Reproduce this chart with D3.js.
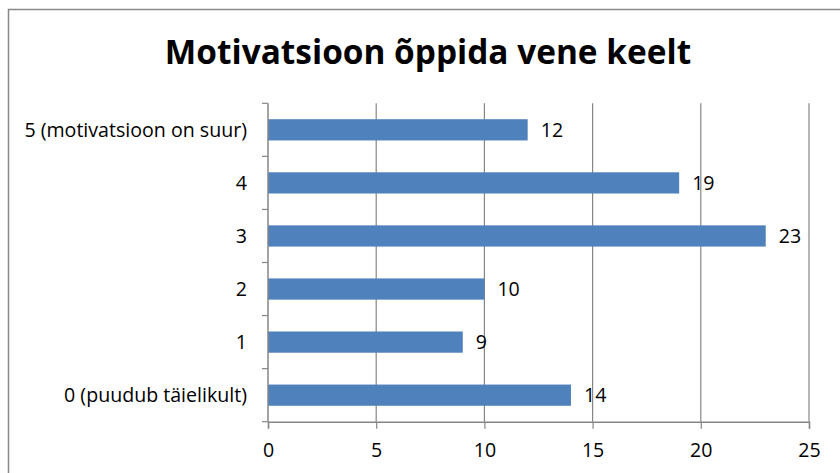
<!DOCTYPE html>
<html>
<head>
<meta charset="utf-8">
<script src="https://cdn.jsdelivr.net/npm/d3@7"></script>
<style>
  html, body { margin: 0; padding: 0; background: #fff; }
  svg { display: block; }
  text { font-variant-ligatures: none; font-feature-settings: "liga" 0; }
</style>
</head>
<body>
<svg id="chart" width="840" height="473"></svg>
<script>
const title = "Motivatsioon õppida vene keelt";
const categories = ["5 (motivatsioon on suur)", "4", "3", "2", "1", "0 (puudub täielikult)"];
const values = [12, 19, 23, 10, 9, 14];
const xTicks = [0, 5, 10, 15, 20, 25];

const W = 840, H = 473;
const plot = { left: 268, right: 809, top: 103.3, bottom: 421.7 };
const fontFamily = "'Open Sans', 'Noto Sans', 'Liberation Sans', sans-serif";
const gridColor = "#868686";
const barColor = "#4F81BD";
const labelSize = 19.6;

const svg = d3.select("#chart");
svg.append("rect").attr("width", W).attr("height", H).attr("fill", "#fff");

// outer frame
svg.append("rect")
  .attr("x", 8.5).attr("y", 9.5)
  .attr("width", W + 20).attr("height", H + 20)
  .attr("fill", "none").attr("stroke", "#888").attr("stroke-width", 1.5);

const x = d3.scaleLinear().domain([0, 25]).range([plot.left, plot.right]);
const y = d3.scaleBand().domain(categories).range([plot.top, plot.bottom])
  .paddingInner(0.6).paddingOuter(0.3);

// title
svg.append("text")
  .attr("x", 428).attr("y", 64)
  .attr("text-anchor", "middle")
  .attr("font-family", fontFamily)
  .attr("font-weight", "bold")
  .attr("font-size", 33.4)
  .attr("fill", "#000")
  .text(title);

// vertical gridlines
svg.append("g").selectAll("line")
  .data(xTicks.filter(d => d > 0))
  .join("line")
  .attr("x1", d => x(d)).attr("x2", d => x(d))
  .attr("y1", plot.top).attr("y2", plot.bottom)
  .attr("stroke", gridColor).attr("stroke-width", 1.2);

// bars
svg.append("g").selectAll("rect")
  .data(categories.map((c, i) => ({ c, v: values[i] })))
  .join("rect")
  .attr("x", x(0))
  .attr("y", d => y(d.c))
  .attr("width", d => x(d.v) - x(0))
  .attr("height", y.bandwidth())
  .attr("fill", barColor);

// value labels
svg.append("g").selectAll("text")
  .data(categories.map((c, i) => ({ c, v: values[i] })))
  .join("text")
  .attr("x", d => x(d.v) + 13)
  .attr("y", d => y(d.c) + y.bandwidth() / 2)
  .attr("dy", "0.36em")
  .attr("font-family", fontFamily)
  .attr("font-size", labelSize)
  .attr("fill", "#000")
  .text(d => d.v);

// bottom axis
const xAxis = d3.axisBottom(x).tickValues(xTicks).tickSize(7).tickPadding(14);
const gx = svg.append("g").attr("transform", `translate(0,${plot.bottom})`).call(xAxis);
gx.select(".domain").attr("stroke", gridColor).attr("stroke-width", 1.5);
gx.selectAll(".tick line").attr("stroke", gridColor).attr("stroke-width", 1.2);
gx.selectAll(".tick text")
  .attr("font-family", fontFamily).attr("font-size", labelSize).attr("fill", "#000");

// left axis
const leftTickPos = d3.range(categories.length + 1).map(i => plot.top + i * (plot.bottom - plot.top) / categories.length);
const gy = svg.append("g");
gy.append("line")
  .attr("x1", plot.left).attr("x2", plot.left)
  .attr("y1", plot.top).attr("y2", plot.bottom)
  .attr("stroke", gridColor).attr("stroke-width", 1.5);
gy.selectAll("line.tk").data(leftTickPos).join("line").attr("class", "tk")
  .attr("x1", plot.left - 6).attr("x2", plot.left)
  .attr("y1", d => d).attr("y2", d => d)
  .attr("stroke", gridColor).attr("stroke-width", 1.2);
gy.selectAll("text").data(categories).join("text")
  .attr("x", 247)
  .attr("y", d => y(d) + y.bandwidth() / 2)
  .attr("dy", "0.36em")
  .attr("text-anchor", "end")
  .attr("font-family", fontFamily)
  .attr("font-size", labelSize)
  .attr("fill", "#000")
  .text(d => d);
</script>
</body>
</html>
